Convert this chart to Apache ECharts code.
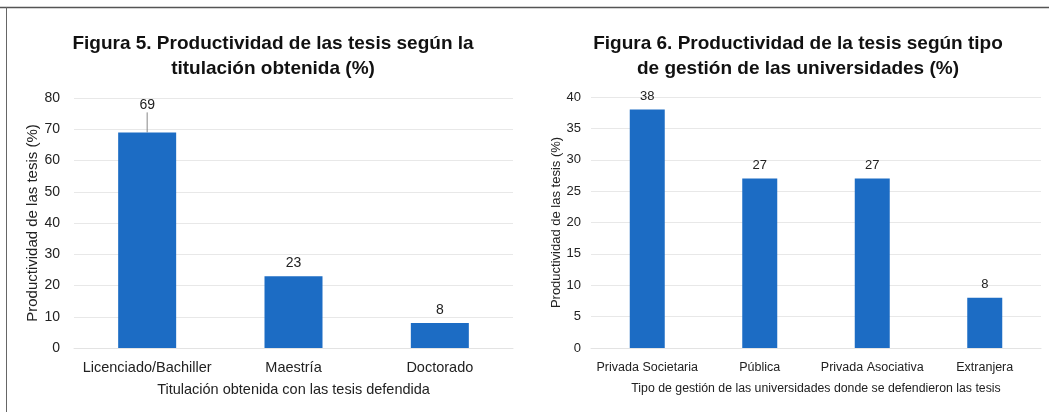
<!DOCTYPE html>
<html>
<head>
<meta charset="utf-8">
<script src="https://cdn.jsdelivr.net/npm/echarts@6/dist/echarts.min.js"></script>
<style>
html,body{margin:0;padding:0;background:#fff;}
#chart{width:1049px;height:412px;}
</style>
</head>
<body>
<div id="chart"></div>
<script>
// Figura 5
var cat5 = ['Licenciado/Bachiller', 'Maestría', 'Doctorado'];
var val5 = [69, 23, 8];
// Figura 6
var cat6 = ['Privada Societaria', 'Pública', 'Privada Asociativa', 'Extranjera'];
var val6 = [38, 27, 27, 8];

var title5 = 'Figura 5. Productividad de las tesis según la\ntitulación obtenida (%)';
var title6 = 'Figura 6. Productividad de la tesis según tipo\nde gestión de las universidades (%)';
var yName = 'Productividad de las tesis (%)';
var xName5 = 'Titulación obtenida con las tesis defendida';
var xName6 = 'Tipo de gestión de las universidades donde se defendieron las tesis';

var FONT = 'Liberation Sans, Arial, sans-serif';
var TXT = '#222';
var BLUE = '#1c6cc4';

var data5 = val5.map(function (v, i) {
  return i === 0 ? {value: v, labelLine: {show: true}} : {value: v};
});

var chart = echarts.init(document.getElementById('chart'), null, {renderer: 'canvas'});
chart.setOption({
  backgroundColor: '#fff',
  animation: false,
  textStyle: {fontFamily: FONT},
  graphic: [
    {type: 'line', shape: {x1: 0, y1: 7.5, x2: 1049, y2: 7.5}, style: {stroke: '#555', lineWidth: 1.5}},
    {type: 'line', shape: {x1: 6.5, y1: 7, x2: 6.5, y2: 412}, style: {stroke: '#666', lineWidth: 1}}
  ],
  title: [
    {text: title5, left: 268, top: 26, textAlign: 'center',
     textStyle: {fontFamily: FONT, fontSize: 19, fontWeight: 'bold', color: '#111', lineHeight: 25, align: 'center'}},
    {text: title6, left: 793, top: 26, textAlign: 'center',
     textStyle: {fontFamily: FONT, fontSize: 19, fontWeight: 'bold', color: '#111', lineHeight: 25, align: 'center'}}
  ],
  grid: [
    {left: 74, right: 536, top: 98, bottom: 64},
    {left: 591, right: 8, top: 97, bottom: 64}
  ],
  xAxis: [
    {type: 'category', gridIndex: 0, data: cat5,
     name: xName5, nameLocation: 'middle', nameGap: 34,
     nameTextStyle: {fontSize: 14.5, color: TXT},
     axisLine: {show: true, lineStyle: {color: '#e3e3e3'}}, axisTick: {show: false},
     axisLabel: {interval: 0, fontSize: 14.5, color: TXT, margin: 12}},
    {type: 'category', gridIndex: 1, data: cat6,
     name: xName6, nameLocation: 'middle', nameGap: 35,
     nameTextStyle: {fontSize: 12.3, color: TXT},
     axisLine: {show: true, lineStyle: {color: '#e3e3e3'}}, axisTick: {show: false},
     axisLabel: {interval: 0, fontSize: 12.5, color: TXT, margin: 13}}
  ],
  yAxis: [
    {type: 'value', gridIndex: 0, min: 0, max: 80, interval: 10,
     name: yName, nameLocation: 'middle', nameGap: 32, nameRotate: 90,
     nameTextStyle: {fontSize: 15, color: TXT},
     axisLine: {show: false}, axisTick: {show: false},
     axisLabel: {fontSize: 14, color: TXT, margin: 14},
     splitLine: {lineStyle: {color: '#e8e8e8'}}},
    {type: 'value', gridIndex: 1, min: 0, max: 40, interval: 5,
     name: yName, nameLocation: 'middle', nameGap: 28, nameRotate: 90,
     nameTextStyle: {fontSize: 13, color: TXT},
     axisLine: {show: false}, axisTick: {show: false},
     axisLabel: {fontSize: 13, color: TXT, margin: 10},
     splitLine: {lineStyle: {color: '#e8e8e8'}}}
  ],
  series: [
    {type: 'bar', xAxisIndex: 0, yAxisIndex: 0, data: data5, barWidth: 58,
     itemStyle: {color: BLUE},
     label: {show: true, position: 'top', distance: 6, fontSize: 14, color: TXT},
     labelLayout: function (p) { return p.dataIndex === 0 ? {dy: -14} : {}; },
     labelLine: {show: false, lineStyle: {color: '#888', width: 1}}},
    {type: 'bar', xAxisIndex: 1, yAxisIndex: 1, data: val6, barWidth: 35,
     itemStyle: {color: BLUE},
     label: {show: true, position: 'top', distance: 7, fontSize: 13, color: TXT}}
  ]
});
</script>
</body>
</html>
